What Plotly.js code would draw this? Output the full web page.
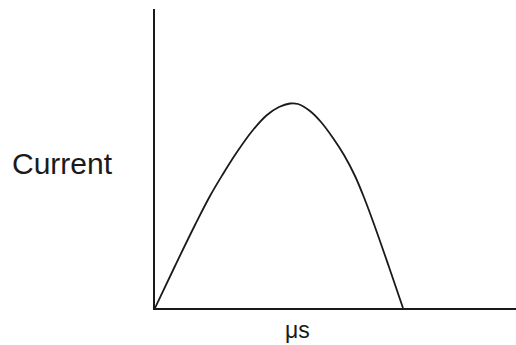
<!DOCTYPE html>
<html>
<head>
<meta charset="utf-8">
<script src="https://cdn.plot.ly/plotly-3.0.1.min.js"></script>
<style>
  html, body { margin: 0; padding: 0; background: #fff; }
  #chart { width: 516px; height: 345px; }
</style>
</head>
<body>
<div id="chart"></div>
<script>
// Current pulse over time (arbitrary units)
const timeUs = [0, 20, 40, 55, 68, 82, 98, 112, 124, 135, 143, 155, 166, 178, 189, 200, 210, 220, 234, 248];
const current = [0, 42, 83, 112, 134, 156, 178, 193, 201, 204.5, 204, 197, 186, 170, 153, 132, 108, 81, 41, 0];

const xLabel = 'μs';
const yLabel = 'Current';

const trace = {
  x: timeUs,
  y: current,
  type: 'scatter',
  mode: 'lines',
  line: { color: '#1a1a1a', width: 1.8, shape: 'spline', smoothing: 1.1 },
  hoverinfo: 'skip'
};

const layout = {
  width: 516,
  height: 345,
  margin: { l: 155, r: 0, t: 9, b: 37 },
  paper_bgcolor: '#ffffff',
  plot_bgcolor: '#ffffff',
  showlegend: false,
  xaxis: {
    range: [0, 361],
    showline: true, linecolor: '#1a1a1a', linewidth: 2,
    showgrid: false, zeroline: false, ticks: '', showticklabels: false
  },
  yaxis: {
    range: [0, 299],
    showline: true, linecolor: '#1a1a1a', linewidth: 2,
    showgrid: false, zeroline: false, ticks: '', showticklabels: false
  },
  annotations: [
    {
      text: yLabel, xref: 'paper', yref: 'paper',
      x: -0.255, y: 0.482, xanchor: 'center', yanchor: 'middle',
      showarrow: false,
      font: { family: 'Liberation Sans, Arial, sans-serif', size: 30, color: '#1a1a1a' }
    },
    {
      text: xLabel, xref: 'paper', yref: 'paper',
      x: 0.396, y: -0.074, xanchor: 'center', yanchor: 'middle',
      showarrow: false,
      font: { family: 'Liberation Sans, Arial, sans-serif', size: 23, color: '#1a1a1a' }
    }
  ]
};

Plotly.newPlot('chart', [trace], layout, { staticPlot: true, displayModeBar: false });
</script>
</body>
</html>
